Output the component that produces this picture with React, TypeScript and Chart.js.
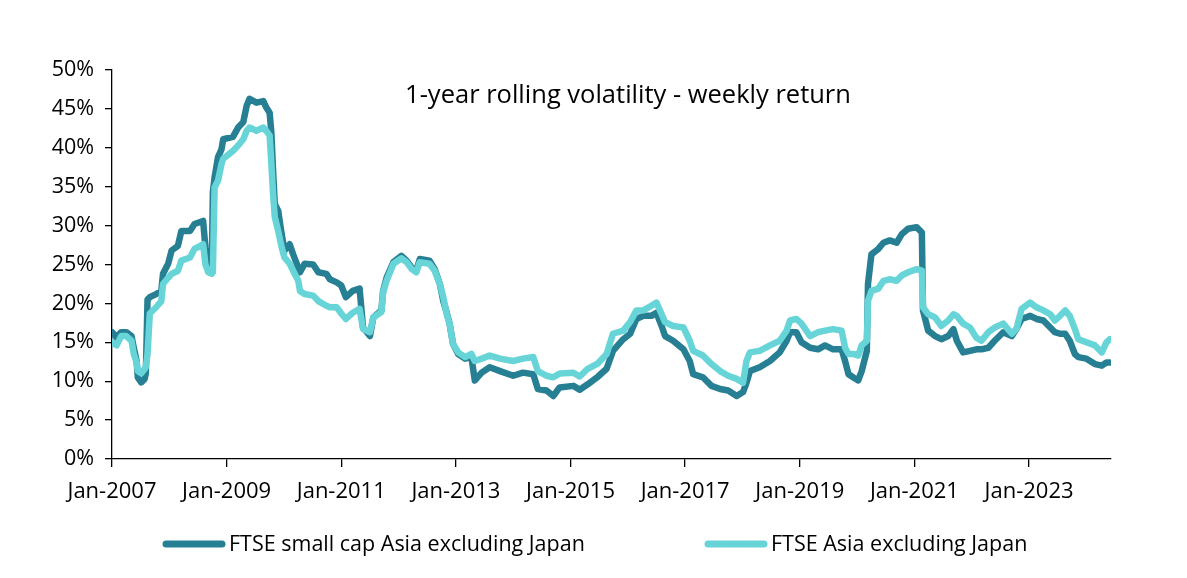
import React, { useEffect, useRef } from "react";
import { Chart, registerables } from "chart.js";

Chart.register(...registerables);

// Decimal years
const DATES = [
  2007.0, 2007.08, 2007.16, 2007.25, 2007.34, 2007.38, 2007.43, 2007.45, 2007.51, 2007.57,
  2007.59, 2007.62, 2007.66, 2007.77, 2007.86, 2007.89, 2007.98, 2008.04, 2008.15, 2008.21,
  2008.36, 2008.44, 2008.59, 2008.63, 2008.68, 2008.74, 2008.76, 2008.79, 2008.85, 2008.91,
  2008.94, 2009.11, 2009.2, 2009.29, 2009.35, 2009.4, 2009.52, 2009.64, 2009.69, 2009.75,
  2009.78, 2009.81, 2009.84, 2009.9, 2009.96, 2010.01, 2010.1, 2010.16, 2010.25, 2010.28,
  2010.36, 2010.51, 2010.6, 2010.74, 2010.8, 2010.92, 2011.0, 2011.08, 2011.2, 2011.32,
  2011.38, 2011.5, 2011.56, 2011.7, 2011.73, 2011.79, 2011.91, 2012.05, 2012.14, 2012.23,
  2012.31, 2012.37, 2012.54, 2012.63, 2012.72, 2012.78, 2012.84, 2012.89, 2012.95, 2013.04,
  2013.16, 2013.27, 2013.33, 2013.45, 2013.59, 2013.77, 2014.0, 2014.17, 2014.35, 2014.43,
  2014.58, 2014.7, 2014.81, 2015.05, 2015.16, 2015.3, 2015.48, 2015.63, 2015.74, 2015.92,
  2016.04, 2016.15, 2016.27, 2016.41, 2016.5, 2016.59, 2016.65, 2016.79, 2016.97, 2017.08,
  2017.14, 2017.31, 2017.46, 2017.61, 2017.75, 2017.9, 2018.01, 2018.07, 2018.13, 2018.3,
  2018.48, 2018.65, 2018.77, 2018.83, 2018.94, 2019.03, 2019.18, 2019.32, 2019.44, 2019.58,
  2019.73, 2019.79, 2019.85, 2019.93, 2020.02, 2020.08, 2020.17, 2020.19, 2020.25, 2020.37,
  2020.46, 2020.57, 2020.69, 2020.78, 2020.89, 2021.04, 2021.13, 2021.15, 2021.24, 2021.36,
  2021.47, 2021.59, 2021.68, 2021.74, 2021.85, 2021.97, 2022.08, 2022.17, 2022.29, 2022.4,
  2022.55, 2022.7, 2022.78, 2022.87, 2023.02, 2023.13, 2023.25, 2023.37, 2023.45, 2023.54,
  2023.63, 2023.71, 2023.8, 2023.86, 2024.0, 2024.15, 2024.27, 2024.35, 2024.41,
];

const SMALL_CAP = [
  16.3, 15.6, 16.3, 16.3, 15.8, 14.3, 12.6, 10.5, 9.85, 10.3,
  11.0, 20.5, 20.8, 21.2, 21.6, 23.8, 25.1, 26.8, 27.4, 29.3,
  29.3, 30.2, 30.6, 27.2, 24.4, 24.4, 34.3, 36.2, 38.8, 39.8,
  41.1, 41.4, 42.6, 43.3, 45.4, 46.3, 45.8, 46.0, 45.2, 44.5,
  42.0, 37.1, 32.8, 31.9, 28.9, 26.8, 27.6, 26.3, 24.6, 24.0,
  25.1, 25.0, 24.0, 23.8, 23.1, 22.7, 22.3, 20.8, 21.6, 21.9,
  16.9, 15.8, 18.2, 19.1, 21.6, 23.3, 25.3, 26.1, 25.5, 24.6,
  24.2, 25.7, 25.5, 24.4, 22.5, 20.3, 18.8, 17.4, 14.8, 13.5,
  12.9, 13.1, 10.1, 11.1, 11.8, 11.3, 10.7, 11.1, 10.9, 9.0,
  8.8, 8.1, 9.2, 9.4, 8.9, 9.6, 10.6, 11.6, 13.9, 15.4,
  16.1, 18.0, 18.4, 18.4, 18.8, 17.1, 15.8, 15.2, 14.1, 12.6,
  10.9, 10.5, 9.4, 9.0, 8.8, 8.1, 8.6, 9.8, 11.3, 11.8,
  12.6, 13.7, 15.2, 16.3, 16.3, 15.0, 14.3, 14.1, 14.6, 14.1,
  14.1, 12.6, 10.9, 10.5, 10.1, 11.3, 13.9, 22.5, 26.3, 27.0,
  27.8, 28.1, 27.8, 28.9, 29.6, 29.8, 29.1, 19.1, 16.5, 15.8,
  15.4, 15.8, 16.7, 15.2, 13.7, 13.9, 14.1, 14.1, 14.3, 15.2,
  16.3, 15.8, 16.7, 18.0, 18.4, 18.0, 17.8, 16.9, 16.3, 16.1,
  16.1, 15.2, 13.5, 13.1, 12.9, 12.2, 12.0, 12.4, 12.4,
];

const ASIA_EX_JAPAN = [
  15.0, 14.6, 15.8, 15.8, 15.2, 13.5, 12.4, 11.3, 11.0, 11.6,
  11.8, 13.5, 18.7, 19.5, 20.3, 22.5, 23.3, 23.8, 24.2, 25.5,
  25.9, 27.0, 27.6, 25.0, 24.0, 23.8, 24.0, 34.9, 35.8, 37.9,
  38.6, 39.6, 40.3, 41.1, 42.2, 42.6, 42.2, 42.6, 42.2, 41.6,
  38.0, 34.1, 31.1, 29.3, 27.2, 25.9, 25.1, 24.2, 22.9, 21.6,
  21.2, 21.0, 20.3, 19.7, 19.5, 19.5, 18.7, 18.0, 18.8, 19.3,
  16.7, 16.3, 18.2, 18.9, 21.4, 22.9, 25.1, 25.8, 25.3, 24.4,
  24.0, 25.3, 25.1, 24.2, 22.5, 20.8, 18.6, 17.4, 14.8, 13.7,
  13.1, 13.5, 12.6, 12.9, 13.3, 12.9, 12.6, 12.9, 13.1, 11.3,
  10.7, 10.5, 11.0, 11.1, 10.6, 11.6, 12.3, 13.5, 16.1, 16.5,
  17.6, 19.1, 19.1, 19.7, 20.1, 18.6, 17.6, 17.1, 16.9, 15.2,
  13.9, 13.3, 12.2, 11.3, 10.7, 10.3, 9.8, 12.6, 13.7, 13.9,
  14.6, 15.2, 16.5, 17.8, 18.0, 17.4, 15.8, 16.3, 16.5, 16.7,
  16.5, 14.3, 13.5, 13.5, 13.3, 14.6, 15.2, 20.3, 21.6, 21.9,
  22.9, 23.1, 22.9, 23.6, 24.0, 24.4, 24.2, 19.5, 18.6, 18.2,
  17.1, 17.8, 18.6, 18.4, 17.4, 16.9, 15.6, 15.2, 16.3, 16.9,
  17.4, 16.1, 16.7, 19.3, 20.1, 19.5, 19.1, 18.6, 17.8, 18.4,
  19.1, 18.4, 16.7, 15.4, 15.0, 14.6, 13.7, 15.0, 15.4,
];

const X_TICKS = [2007, 2009, 2011, 2013, 2015, 2017, 2019, 2021, 2023];
const X_MIN = 2007;
const X_MAX = 2024.43;
const Y_TICKS = [0, 5, 10, 15, 20, 25, 30, 35, 40, 45, 50];
const TITLE = "1-year rolling volatility - weekly return";
const SERIES_NAMES = ["FTSE small cap Asia excluding Japan", "FTSE Asia excluding Japan"];

const DARK = "#267f92";
const LIGHT = "#67d5d8";
const FONT = "'Open Sans', sans-serif";

const overlayPlugin = {
  id: "overlay",
  afterDraw(chart: any) {
    const ctx = chart.ctx as CanvasRenderingContext2D;
    ctx.save();
    // title inside plot area
    ctx.fillStyle = "#000";
    ctx.font = `25.5px ${FONT}`;
    ctx.textAlign = "center";
    ctx.textBaseline = "alphabetic";
    ctx.fillText(TITLE, 628, 103);
    // legend
    const items = [
      { label: SERIES_NAMES[0], color: DARK, x: 163 },
      { label: SERIES_NAMES[1], color: LIGHT, x: 705 },
    ];
    const ly = 544;
    ctx.font = `21.5px ${FONT}`;
    ctx.textAlign = "left";
    ctx.textBaseline = "middle";
    for (const it of items) {
      ctx.strokeStyle = it.color;
      ctx.lineWidth = 7;
      ctx.lineCap = "round";
      ctx.beginPath();
      ctx.moveTo(it.x + 3, ly);
      ctx.lineTo(it.x + 59, ly);
      ctx.stroke();
      ctx.fillStyle = "#000";
      ctx.fillText(it.label, it.x + 66, ly + 1);
    }
    ctx.restore();
  },
};

export default function App() {
  const ref = useRef<HTMLCanvasElement>(null);

  useEffect(() => {
    const canvas = ref.current;
    if (!canvas) return;
    const toPoints = (vals: number[]) => DATES.map((d, i) => ({ x: d, y: vals[i] }));
    const chart = new Chart(canvas, {
      type: "line",
      data: {
        datasets: [
          {
            label: SERIES_NAMES[0],
            data: toPoints(SMALL_CAP),
            borderColor: DARK,
            backgroundColor: DARK,
            borderWidth: 6.5,
            pointRadius: 0,
            tension: 0,
            borderJoinStyle: "round",
            borderCapStyle: "round",
            order: 1,
          },
          {
            label: SERIES_NAMES[1],
            data: toPoints(ASIA_EX_JAPAN),
            borderColor: LIGHT,
            backgroundColor: LIGHT,
            borderWidth: 6.5,
            pointRadius: 0,
            tension: 0,
            borderJoinStyle: "round",
            borderCapStyle: "round",
            order: 0,
          },
        ],
      },
      options: {
        responsive: false,
        devicePixelRatio: 1,
        animation: false,
        layout: { padding: { top: 70, right: 76, left: 0, bottom: 0 } },
        plugins: {
          legend: { display: false },
          tooltip: { enabled: false },
          title: { display: false },
        },
        scales: {
          x: {
            type: "linear",
            min: X_MIN,
            max: X_MAX,
            afterBuildTicks: (scale: any) => {
              scale.ticks = X_TICKS.map((v) => ({ value: v }));
            },
            afterFit: (scale: any) => {
              scale.height = 119;
            },
            border: { display: true, color: "#000", width: 1.3 },
            grid: {
              display: true,
              drawOnChartArea: false,
              drawTicks: true,
              tickLength: 8,
              color: "#000",
              lineWidth: 1.3,
            },
            ticks: {
              autoSkip: false,
              maxRotation: 0,
              padding: 12,
              color: "#000",
              font: { family: FONT, size: 22 },
              callback: (v: any) => `Jan-${v}`,
            },
          },
          y: {
            type: "linear",
            min: 0,
            max: 50,
            afterBuildTicks: (scale: any) => {
              scale.ticks = Y_TICKS.map((v) => ({ value: v }));
            },
            afterFit: (scale: any) => {
              scale.width = 112;
            },
            border: { display: true, color: "#000", width: 1.3 },
            grid: {
              display: true,
              drawOnChartArea: false,
              drawTicks: true,
              tickLength: 7,
              color: "#000",
              lineWidth: 1.3,
            },
            ticks: {
              padding: 11,
              color: "#000",
              font: { family: FONT, size: 21.5 },
              callback: (v: any) => `${v}%`,
            },
          },
        },
      },
      plugins: [overlayPlugin],
    });
    return () => chart.destroy();
  }, []);

  return (
    <div style={{ position: "fixed", left: 0, top: 0, width: 1187, height: 578, background: "#fff" }}>
      <canvas ref={ref} width={1187} height={578} style={{ display: "block" }} />
    </div>
  );
}
